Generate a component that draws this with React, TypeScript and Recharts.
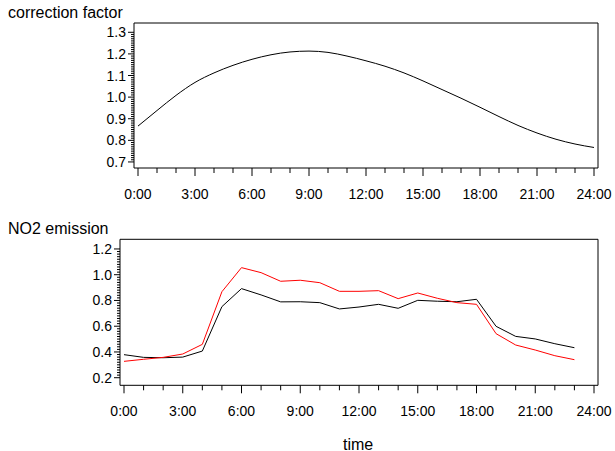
import { LineChart, Line, XAxis, YAxis } from "recharts"

// correction factor, hourly
const factorHours = [0, 1, 2, 3, 4, 5, 6, 7, 8, 9, 10, 11, 12, 13, 14, 15, 16, 17, 18, 19, 20, 21, 22, 23, 24]
const correctionFactor = [
    0.866, 0.938, 1.008, 1.068, 1.112, 1.147, 1.175, 1.196, 1.209, 1.213, 1.207, 1.19, 1.168,
    1.143, 1.112, 1.075, 1.035, 0.995, 0.953, 0.91, 0.869, 0.834, 0.805, 0.783, 0.767,
]

// NO2 emission, hourly (black = raw, red = corrected)
const emissionHours = [0, 1, 2, 3, 4, 5, 6, 7, 8, 9, 10, 11, 12, 13, 14, 15, 16, 17, 18, 19, 20, 21, 22, 23]
const no2Emission = [
    0.379, 0.358, 0.355, 0.36, 0.407, 0.752, 0.892, 0.843, 0.789, 0.79, 0.783, 0.734,
    0.749, 0.77, 0.739, 0.801, 0.794, 0.79, 0.809, 0.599, 0.521, 0.501, 0.464, 0.433,
]
const no2Corrected = [
    0.327, 0.343, 0.358, 0.384, 0.459, 0.868, 1.055, 1.016, 0.949, 0.957, 0.938, 0.871,
    0.871, 0.876, 0.814, 0.858, 0.817, 0.783, 0.77, 0.542, 0.454, 0.415, 0.371, 0.34,
]

// tick labels
const hourTicks = [0, 1, 2, 3, 4, 5, 6, 7, 8, 9, 10, 11, 12, 13, 14, 15, 16, 17, 18, 19, 20, 21, 22, 23, 24]
const factorMajorTicks = [0.7, 0.8, 0.9, 1.0, 1.1, 1.2, 1.3]
const emissionMajorTicks = [0.2, 0.4, 0.6, 0.8, 1.0, 1.2]

const FONT = '"Liberation Sans", Arial, sans-serif'

// minor ticks between the first and last major tick
function withMinor(major: number[], step: number): number[] {
    const out: number[] = []
    const n = Math.round((major[major.length - 1] - major[0]) / step)
    for (let i = 0; i <= n; i++) out.push(Math.round((major[0] + i * step) * 1000) / 1000)
    return out
}

const factorTicks = withMinor(factorMajorTicks, 0.01)
const emissionTicks = withMinor(emissionMajorTicks, 0.02)

const factorData = factorHours.map((h, i) => ({ hour: h, factor: correctionFactor[i] }))
const emissionData = emissionHours.map((h, i) => ({
    hour: h,
    emission: no2Emission[i],
    corrected: no2Corrected[i],
}))

function XTick(props: any) {
    const { x, y, payload } = props
    const h = payload.value as number
    const major = h % 3 === 0
    return (
        <g>
            <line x1={x} x2={x} y1={y} y2={y + (major ? 8 : 5)} stroke="#000" />
            {major && (
                <text x={x} y={y + 31} textAnchor="middle" fontSize={14} fill="#000" fontFamily={FONT}>
                    {h}:00
                </text>
            )}
        </g>
    )
}

function makeYTick(majors: number[]) {
    return function YTick(props: any) {
        const { x, y, payload } = props
        const v = payload.value as number
        const major = majors.some(m => Math.abs(m - v) < 1e-6)
        return (
            <g>
                <line x1={x - (major ? 6 : 3)} x2={x} y1={y} y2={y} stroke="#000" />
                {major && (
                    <text x={x - 8} y={y + 5} textAnchor="end" fontSize={14} fill="#000" fontFamily={FONT}>
                        {v.toFixed(1)}
                    </text>
                )}
            </g>
        )
    }
}

const FactorYTick = makeYTick(factorMajorTicks)
const EmissionYTick = makeYTick(emissionMajorTicks)

const titleStyle: React.CSSProperties = {
    position: "absolute",
    fontFamily: FONT,
    fontSize: 16,
    lineHeight: "16px",
    color: "#000",
    whiteSpace: "nowrap",
}

export default function App() {
    return (
        <div
            style={{
                position: "absolute",
                left: 0,
                top: 0,
                width: 615,
                height: 451,
                background: "#fff",
                fontFamily: FONT,
            }}
        >
            <div style={{ ...titleStyle, left: 8, top: 4.5 }}>correction factor</div>
            <div style={{ position: "absolute", left: 0, top: 0 }}>
                <LineChart width={615} height={210} data={factorData} margin={{ top: 22, right: 16, left: 0, bottom: 0 }}>
                    <XAxis
                        dataKey="hour"
                        type="number"
                        domain={[0, 24]}
                        ticks={hourTicks}
                        interval={0}
                        padding={{ left: 4, right: 4 }}
                        height={42}
                        tickSize={0}
                        tickMargin={0}
                        tickLine={false}
                        axisLine={{ stroke: "#000" }}
                        tick={<XTick />}
                    />
                    <XAxis xAxisId="top" orientation="top" dataKey="hour" type="number" domain={[0, 24]} height={1} tick={false} tickLine={false} axisLine={{ stroke: "#000" }} />
                    <YAxis
                        type="number"
                        domain={[0.672, 1.343]}
                        allowDataOverflow
                        ticks={factorTicks}
                        interval={0}
                        width={134}
                        tickSize={0}
                        tickMargin={0}
                        tickLine={false}
                        axisLine={{ stroke: "#000" }}
                        tick={<FactorYTick />}
                    />
                    <YAxis yAxisId="right" orientation="right" type="number" domain={[0, 1]} width={1} tick={false} tickLine={false} axisLine={{ stroke: "#000" }} />
                    <Line type="monotone" dataKey="factor" stroke="#000" strokeWidth={1} dot={false} isAnimationActive={false} />
                </LineChart>
            </div>

            <div style={{ ...titleStyle, left: 8, top: 220.5 }}>NO2 emission</div>
            <div style={{ position: "absolute", left: 0, top: 210 }}>
                <LineChart width={615} height={241} data={emissionData} margin={{ top: 28.3, right: 16, left: 0, bottom: 0 }}>
                    <XAxis
                        dataKey="hour"
                        type="number"
                        domain={[0, 24]}
                        ticks={hourTicks}
                        interval={0}
                        padding={{ left: 4, right: 4 }}
                        height={65.7}
                        tickSize={0}
                        tickMargin={0}
                        tickLine={false}
                        axisLine={{ stroke: "#000" }}
                        tick={<XTick />}
                    />
                    <XAxis xAxisId="top" orientation="top" dataKey="hour" type="number" domain={[0, 24]} height={1} tick={false} tickLine={false} axisLine={{ stroke: "#000" }} />
                    <YAxis
                        type="number"
                        domain={[0.141, 1.275]}
                        allowDataOverflow
                        ticks={emissionTicks}
                        interval={0}
                        width={120}
                        tickSize={0}
                        tickMargin={0}
                        tickLine={false}
                        axisLine={{ stroke: "#000" }}
                        tick={<EmissionYTick />}
                    />
                    <YAxis yAxisId="right" orientation="right" type="number" domain={[0, 1]} width={1} tick={false} tickLine={false} axisLine={{ stroke: "#000" }} />
                    <Line type="linear" dataKey="emission" stroke="#000" strokeWidth={1} dot={false} isAnimationActive={false} />
                    <Line type="linear" dataKey="corrected" stroke="#ff0000" strokeWidth={1} dot={false} isAnimationActive={false} />
                </LineChart>
            </div>
            <div style={{ ...titleStyle, left: 343, top: 436.5 }}>time</div>
        </div>
    )
}
